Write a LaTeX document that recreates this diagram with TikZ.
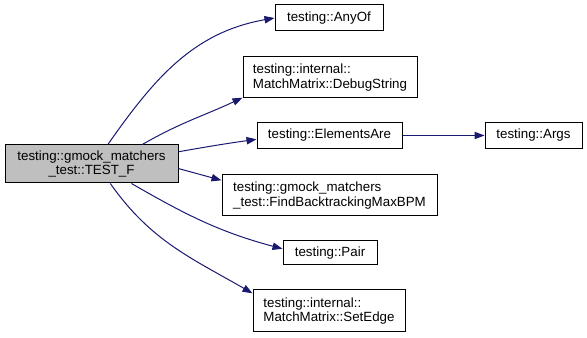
\documentclass[tikz,border=0pt]{standalone}
\usepackage{fontspec}
\setmainfont{Liberation Sans}
\usetikzlibrary{arrows.meta,positioning}
\definecolor{edgeblue}{HTML}{191970}
\definecolor{callergray}{HTML}{BFBFBF}

\begin{document}
\begin{tikzpicture}[x=0.75pt,y=0.75pt,
      func/.style={rectangle, draw=black, line width=0.75pt, inner sep=2pt, minimum height=19.5pt, font=\fontsize{10}{11}\selectfont},
      pfeil/.style={edgeblue, line width=0.75pt, -{Triangle[length=7.5pt,width=5.5pt]}}]

\useasboundingbox (0,0) rectangle (587,338);

\node[func, fill=callergray, align=center, minimum width=129.75pt, minimum height=28.5pt] (f0) at (91.5,174) {testing::gmock\_matchers\\\_test::TEST\_F};
\node[func, minimum width=81pt] (f1) at (329,320) {testing::AnyOf};
\node[func, align=left, minimum width=130.5pt, minimum height=30.75pt] (f2) at (330,260.5) {testing::internal::\\MatchMatrix::DebugString};
\node[func, minimum width=108.75pt] (f3) at (329.5,202.5) {testing::ElementsAre};
\node[func, minimum width=72.75pt] (f4) at (533.5,202.5) {testing::Args};
\node[func, align=left, minimum width=161.25pt, minimum height=30.75pt] (f5) at (329.5,142.5) {testing::gmock\_matchers\\\_test::FindBacktrackingMaxBPM};
\node[func, minimum width=70.5pt, minimum height=18pt] (f6) at (330,85) {testing::Pair};
\node[func, align=left, minimum width=114pt, minimum height=31.5pt] (f7) at (329,27) {testing::internal::\\MatchMatrix::SetEdge};

\draw[pfeil] (f0.50) to[out=55,in=190] (f1.west);
\draw[pfeil] (f0.21) to[out=30,in=205] (f2.193);
\draw[pfeil] (f0.8) to[out=10,in=188] (f3.183);
\draw[pfeil] (f0.-3) -- (f5.172);
\draw[pfeil] (f0.-26) to[out=-30,in=165] (f6.175);
\draw[pfeil] (f0.-46) to[out=-55,in=150] (f7.167);
\draw[pfeil] (f3) -- (f4);

\end{tikzpicture}
\end{document}
